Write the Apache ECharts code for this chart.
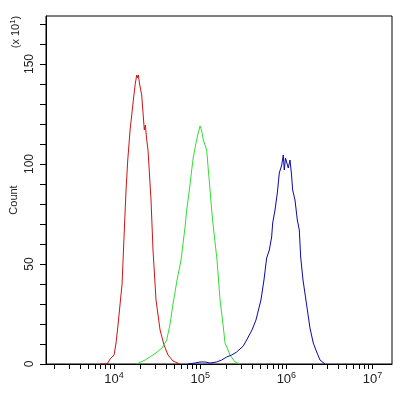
<!DOCTYPE html>
<html>
<head>
<meta charset="utf-8">
<script src="https://cdn.jsdelivr.net/npm/echarts@6/dist/echarts.min.js"></script>
<style>html,body{margin:0;padding:0;background:#fff}#c{width:415px;height:393px}</style>
</head>
<body>
<div id="c"></div>
<script>
// x values are log10(fluorescence intensity); counts are in units of x10^1
var redLogX = [3.838,3.919,3.954,4.000,4.023,4.046,4.070,4.093,4.119,4.139,4.159,4.186,4.224,4.244,4.263,4.273,4.282,4.296,4.321,4.351,4.363,4.377,4.394,4.429,4.452,4.487,4.534,4.580,4.626,4.684,4.766];
var redCount = [0,0,2.5,4.5,10.5,19.5,30,40,67,87,102,117,132,139.5,144.5,143,144.5,140,134.5,117,119.5,113,107,82,57,32,17,9.5,4.5,1.5,0];

var greenLogX = [4.263,4.360,4.452,4.499,4.557,4.611,4.650,4.684,4.731,4.777,4.824,4.843,4.874,4.901,4.920,4.951,4.974,4.998,5.015,5.036,5.050,5.075,5.094,5.114,5.133,5.152,5.195,5.230,5.264,5.288,5.346,5.404,5.462];
var greenCount = [0,2,4.5,6,8,12,20,30,42,52,68.5,77,87,97,103.5,110.5,115,119,117,112,113,107,97,87,77,68.5,52,32,20,10.5,4.5,1,0];

var blueLogX = [4.858,4.940,4.998,5.056,5.114,5.191,5.249,5.307,5.365,5.423,5.500,5.539,5.601,5.647,5.705,5.740,5.771,5.802,5.829,5.841,5.868,5.895,5.918,5.946,5.964,5.976,5.990,6.004,6.022,6.042,6.059,6.073,6.100,6.111,6.127,6.150,6.166,6.193,6.227,6.274,6.312,6.352,6.390,6.448];
var blueCount = [0,0.5,1,1,0.5,1,2,3.5,4.5,6,9,12,17,22,32,42,53,57,63.5,70.5,77,85.5,95.5,99.5,104.5,97,103,103.5,98,102,95,87,82,82.5,72,67,53.5,42,32,18,10.5,6,2,0];

var xLabelExps = [4,5,6,7];
var yLabelValues = [0,50,100,150];
var yTickValues = [0,10,20,30,40,50,60,70,80,90,100,110,120,130,140,150,160,170];
var xMin = 3.21, xMax = 7.226;
var yMax = 174;

function zip(a,b){var r=[];for(var i=0;i<a.length;i++)r.push([a[i],b[i]]);return r;}
var xTicks = [];
for (var n = 3; n <= 7; n++) for (var k = 1; k <= 9; k++) {
  var v = n + Math.log10(k);
  if (v >= xMin && v <= xMax) xTicks.push(v);
}

var font = 'Liberation Sans, Arial, sans-serif';
var chart = echarts.init(document.getElementById('c'), null, {renderer:'canvas'});
chart.setOption({
  animation:false,
  backgroundColor:'#fff',
  grid:{left:46, top:16, right:23, bottom:29, show:true, borderColor:'#000', borderWidth:1, backgroundColor:'transparent'},
  xAxis:{
    type:'value', min:xMin, max:xMax,
    axisLine:{show:true, onZero:false, lineStyle:{color:'#000', width:1}},
    axisTick:{show:true, length:5, inside:false, lineStyle:{color:'#000'}, customValues:xTicks},
    axisLabel:{show:true, margin:7, customValues:xLabelExps,
      formatter:function(v){return '{a|10}{b|'+Math.round(v)+'}';},
      rich:{a:{fontSize:13, fontFamily:font, color:'#222'}, b:{fontSize:9, fontFamily:font, color:'#222', verticalAlign:'top', padding:[0,0,8,0]}}},
    splitLine:{show:false}
  },
  yAxis:{
    type:'value', min:0, max:yMax,
    axisLine:{show:true, lineStyle:{color:'#000', width:1}},
    axisTick:{show:true, length:6, lineStyle:{color:'#000'}, customValues:yTickValues},
    axisLabel:{show:true, rotate:90, margin:10, fontSize:12, fontFamily:font, color:'#222', customValues:yLabelValues},
    splitLine:{show:false}
  },
  graphic:[
    {type:'text', x:16, y:32, rotation:Math.PI/2, style:{text:'(x 10{s|1})', fontSize:11, fontFamily:font, fill:'#222', align:'center', verticalAlign:'middle', rich:{s:{fontSize:8, fontFamily:font, fill:'#222', verticalAlign:'top', padding:[0,0,6,0]}}}},
    {type:'text', x:14, y:200, rotation:Math.PI/2, style:{text:'Count', fontSize:11, fontFamily:font, fill:'#222', align:'center', verticalAlign:'middle'}}
  ],
  series:[
    {type:'line', data:zip(redLogX, redCount), showSymbol:false, symbol:'none', lineStyle:{color:'#cc1515', width:1}},
    {type:'line', data:zip(greenLogX, greenCount), showSymbol:false, symbol:'none', lineStyle:{color:'#33dd33', width:1}},
    {type:'line', data:zip(blueLogX, blueCount), showSymbol:false, symbol:'none', lineStyle:{color:'#0a0aa5', width:1}}
  ]
});
</script>
</body>
</html>
